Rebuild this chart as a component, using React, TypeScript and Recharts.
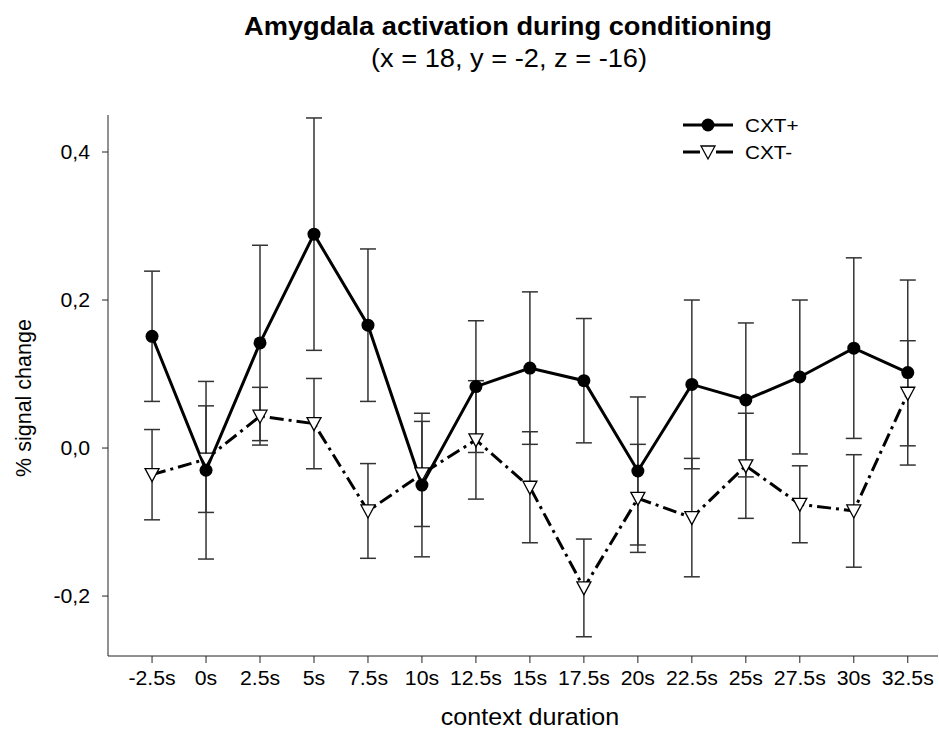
import { LineChart, Line, XAxis, YAxis, ErrorBar } from 'recharts'

const times = [-2.5, 0, 2.5, 5, 7.5, 10, 12.5, 15, 17.5, 20, 22.5, 25, 27.5, 30, 32.5]
const cxtPlus = [0.151, -0.030, 0.142, 0.289, 0.166, -0.050, 0.083, 0.108, 0.091, -0.031, 0.086, 0.065, 0.096, 0.135, 0.102]
const cxtPlusErr = [0.088, 0.120, 0.132, 0.157, 0.103, 0.097, 0.089, 0.103, 0.084, 0.100, 0.114, 0.104, 0.104, 0.122, 0.125]
const cxtMinus = [-0.036, -0.015, 0.043, 0.033, -0.085, -0.035, 0.011, -0.053, -0.189, -0.068, -0.094, -0.024, -0.076, -0.085, 0.074]
const cxtMinusErr = [0.061, 0.072, 0.039, 0.061, 0.064, 0.071, 0.080, 0.075, 0.066, 0.073, 0.080, 0.071, 0.052, 0.076, 0.071]
const yTicks = [-0.2, 0, 0.2, 0.4]

const data = times.map((t, i) => ({
  t,
  plus: cxtPlus[i],
  plusErr: cxtPlusErr[i],
  minus: cxtMinus[i],
  minusErr: cxtMinusErr[i],
}))

const font = '"Liberation Sans", Arial, sans-serif'
const DASH_DOT = '14 5 3 5'
// the source picture is a bit wider than tall, text looks stretched
const SX = 1.09

interface DotProps {
  cx?: number
  cy?: number
  index?: number
  [key: string]: unknown
}

interface TickProps {
  x?: number
  y?: number
  payload?: { value: number }
  [key: string]: unknown
}

function WideText({ x, y, size, anchor = 'middle', bold = false, children }: {
  x: number
  y: number
  size: number
  anchor?: 'start' | 'middle' | 'end'
  bold?: boolean
  children: React.ReactNode
}) {
  return (
    <text
      transform={`translate(${x},${y}) scale(${SX},1)`}
      textAnchor={anchor}
      fontSize={size}
      fontFamily={font}
      fontWeight={bold ? 'bold' : 'normal'}
      fill="#000"
    >
      {children}
    </text>
  )
}

function XTick({ x = 0, y = 0, payload }: TickProps) {
  return (
    <WideText x={x} y={y + 21} size={19.5}>
      {`${payload?.value}s`}
    </WideText>
  )
}

function YTick({ x = 0, y = 0, payload }: TickProps) {
  const v = payload?.value ?? 0
  return (
    <WideText x={x} y={y + 7} size={19.5} anchor="end">
      {v.toFixed(1).replace('.', ',')}
    </WideText>
  )
}

function TriangleDot({ cx, cy, index }: DotProps) {
  if (cx == null || cy == null) return <g key={index} />
  return (
    <polygon
      key={index}
      points={`${cx - 7},${cy - 6} ${cx + 7},${cy - 6} ${cx},${cy + 7}`}
      fill="#fff"
      stroke="#000"
      strokeWidth={1.3}
    />
  )
}

function CircleDot({ cx, cy, index }: DotProps) {
  if (cx == null || cy == null) return <g key={index} />
  return <circle key={index} cx={cx} cy={cy} r={6.5} fill="#000" stroke="none" />
}

export default function App() {
  return (
    <div style={{ position: 'fixed', left: 0, top: 0, width: 939, height: 731, background: '#fff' }}>
      <div style={{ position: 'absolute', left: 0, top: 0 }}>
        <LineChart width={939} height={731} data={data} margin={{ top: 115, right: 1, bottom: 40, left: 48 }}>
          <XAxis
            dataKey="t"
            type="number"
            domain={[-4.54, 33.9]}
            ticks={times}
            allowDataOverflow
            height={35}
            tickSize={7}
            tickMargin={1}
            stroke="#222"
            tick={(p: TickProps) => <XTick {...p} />}
            interval={0}
          />
          <YAxis
            type="number"
            domain={[-0.281, 0.45]}
            ticks={yTicks}
            allowDataOverflow
            width={60}
            tickSize={6}
            tickMargin={12}
            stroke="#222"
            tick={(p: TickProps) => <YTick {...p} />}
          />
          <Line
            dataKey="minus"
            stroke="#000"
            strokeWidth={3}
            strokeDasharray={DASH_DOT}
            dot={(p: DotProps) => <TriangleDot {...p} />}
            activeDot={false}
            isAnimationActive={false}
          >
            <ErrorBar dataKey="minusErr" direction="y" width={8} stroke="#333" strokeWidth={1.5} />
          </Line>
          <Line
            dataKey="plus"
            stroke="#000"
            strokeWidth={3}
            dot={(p: DotProps) => <CircleDot {...p} />}
            activeDot={false}
            isAnimationActive={false}
          >
            <ErrorBar dataKey="plusErr" direction="y" width={8} stroke="#333" strokeWidth={1.5} />
          </Line>
        </LineChart>
      </div>

      <svg style={{ position: 'absolute', left: 0, top: 0 }} width={939} height={731}>
        <WideText x={508} y={35} size={25} bold>Amygdala activation during conditioning</WideText>
        <WideText x={509} y={67} size={25}>(x = 18, y = -2, z = -16)</WideText>
        <WideText x={530} y={725} size={23}>context duration</WideText>
        <text
          transform="translate(31,398) rotate(-90)"
          textAnchor="middle"
          fontSize={21.5}
          fontFamily={font}
          fill="#000"
        >
          % signal change
        </text>

        <line x1={683} x2={733} y1={125} y2={125} stroke="#000" strokeWidth={3} />
        <circle cx={708} cy={125} r={6.5} fill="#000" />
        <WideText x={745} y={132} size={19} anchor="start">CXT+</WideText>
        <line x1={683} x2={700} y1={152} y2={152} stroke="#000" strokeWidth={3} />
        <line x1={716} x2={733} y1={152} y2={152} stroke="#000" strokeWidth={3} />
        <polygon points="701,146 715,146 708,159" fill="#fff" stroke="#000" strokeWidth={1.3} />
        <WideText x={745} y={159} size={19} anchor="start">CXT-</WideText>
      </svg>
    </div>
  )
}
